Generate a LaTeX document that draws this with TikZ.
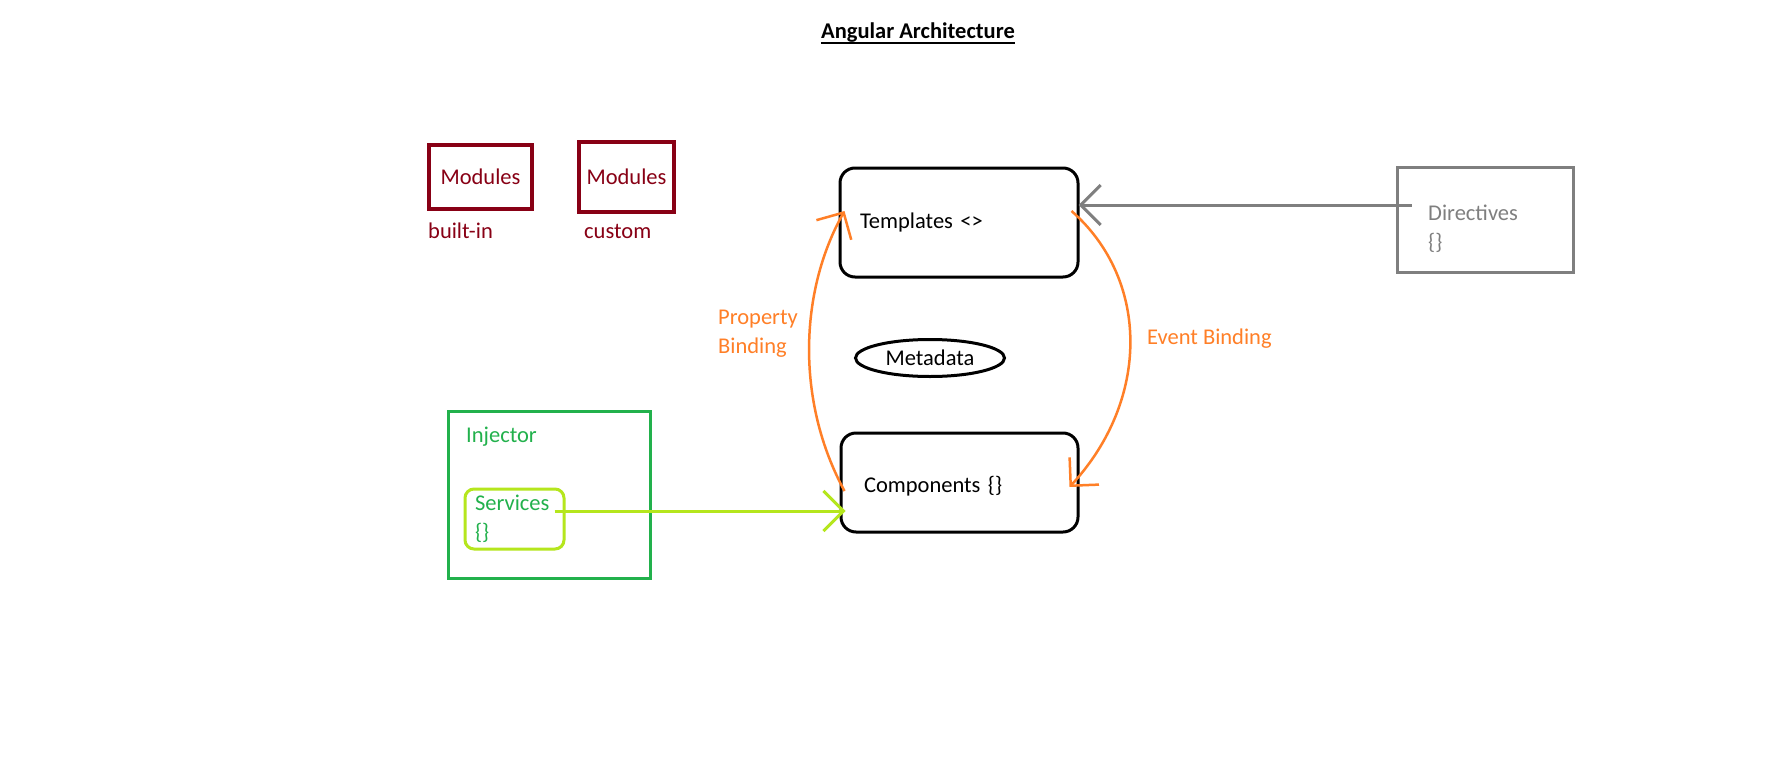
\documentclass[tikz,border=0pt]{standalone}
\usepackage{fontspec}
\setmainfont{Carlito}
\usetikzlibrary{arrows.meta,calc,shapes.geometric}
\definecolor{dred}{HTML}{880015}
\definecolor{dgray}{HTML}{7F7F7F}
\definecolor{orng}{HTML}{FF7F27}
\definecolor{grn}{HTML}{22B14C}
\definecolor{lime}{HTML}{B5E61D}
\begin{document}
\begin{tikzpicture}[x=1pt,y=-1pt,
  txt/.style={font=\fontsize{22.5}{29}\selectfont, inner sep=0pt},
  modbox/.style={txt, draw=dred, line width=3.5pt, text=dred},
  roundbox/.style={txt, draw=black, line width=3pt, rounded corners=15pt, align=left},
  barb/.style={-{Straight Barb[length=20pt,width=40pt]}},
]
\fill[white] (0,0) rectangle (1790,768);
\useasboundingbox (0,0) rectangle (1790,768);

% title
\node[txt, font=\fontsize{22.5}{29}\selectfont\bfseries] (title) at (918,33) {Angular Architecture};
\draw[line width=2.5pt] ([yshift=-4pt]title.base west) -- ([yshift=-4pt]title.base east);

% modules
\node[modbox, minimum width=103pt, minimum height=64pt] (mod1) at (480.5,177) {Modules};
\node[modbox, minimum width=95pt, minimum height=70pt] (mod2) at (626.5,177) {Modules};
\node[txt, text=dred, anchor=west] (builtin) at (428,231) {built-in};
\node[txt, text=dred, anchor=west] (custom) at (584,231) {custom};

% templates & components
\node[roundbox, text width=198pt, inner xsep=20pt, minimum height=109pt] (tpl) at (959,222.5) {Templates <>};
\node[roundbox, text width=191pt, inner xsep=23pt, minimum height=99pt] (comp) at (959.5,482.5) {\raisebox{-4pt}[\height][\depth]{Components \{\}}};

% directives
\node[draw=dgray, line width=3pt, minimum width=176pt, minimum height=105pt, inner sep=0pt] (dir) at (1485,219.5) {};
\node[txt, text=dgray, anchor=west, align=left] (dirtxt) at (1428,228.5) {Directives\\\{\}};

% metadata
\node[txt, ellipse, draw=black, line width=3pt, minimum width=149pt, minimum height=37pt] (meta) at (930,358) {Metadata};

% injector
\node[draw=grn, line width=3pt, minimum width=202pt, minimum height=167pt, inner sep=0pt] (inj) at (549,494.5) {};
\node[txt, text=grn, anchor=west] (injtxt) at (466,437) {Injector};
\node[txt, draw=lime, line width=3pt, rounded corners=9pt, text=grn, align=left, text width=79pt, inner xsep=10pt, minimum height=60pt] (svc) at (514.5,519) {Services\\\{\}};

% connectors
\draw[lime, line width=3pt, barb] ($(svc.east)+(-11,-8)$) -- ($(comp.west)+(6,28.5)$);
\draw[dgray, line width=3pt, barb] ($(dir.west)+(16,-14.5)$) -- ($(tpl.east)+(-1,-17.5)$);
\draw[orng, line width=2.5pt, barb] ($(comp.west)+(5,8.5)$) .. controls (795,400) and (800,290) .. ($(tpl.west)+(6,-11.5)$);
\draw[orng, line width=2.5pt, barb] ($(tpl.east)+(-8,-11.5)$) .. controls (1150,280) and (1150,400) .. ($(comp.east)+(-10,4.5)$);

% binding labels
\node[txt, text=orng, anchor=west, align=left] (prop) at (718,333.5) {Property\\Binding};
\node[txt, text=orng, anchor=west] (event) at (1147,339) {Event Binding};
\end{tikzpicture}
\end{document}
